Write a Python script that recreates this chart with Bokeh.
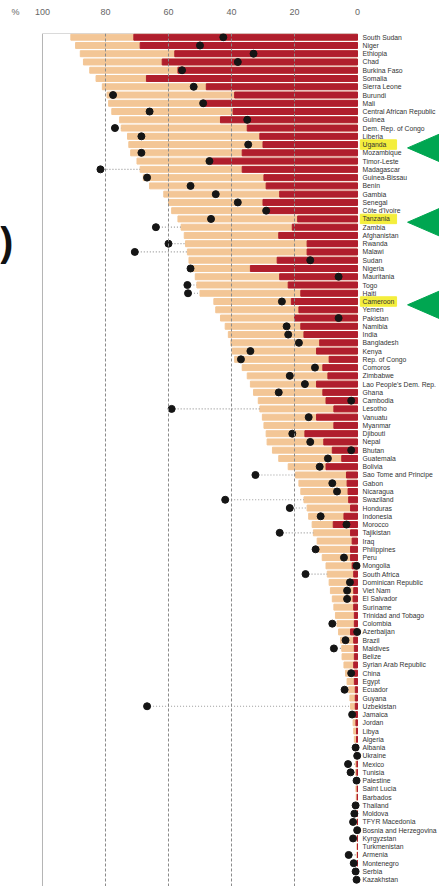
import math
from bokeh.plotting import figure
from bokeh.models import Range1d, FixedTicker, Span, ColumnDataSource
from bokeh.embed import file_html
from bokeh.resources import INLINE
from bokeh.core.properties import value

countries = [
    "South Sudan", "Niger", "Ethiopia", "Chad", "Burkina Faso", "Somalia",
    "Sierra Leone", "Burundi", "Mali", "Central African Republic", "Guinea",
    "Dem. Rep. of Congo", "Liberia", "Uganda", "Mozambique", "Timor-Leste",
    "Madagascar", "Guinea-Bissau", "Benin", "Gambia", "Senegal", "Côte d'Ivoire",
    "Tanzania", "Zambia", "Afghanistan", "Rwanda", "Malawi", "Sudan", "Nigeria",
    "Mauritania", "Togo", "Haiti", "Cameroon", "Yemen", "Pakistan", "Namibia",
    "India", "Bangladesh", "Kenya", "Rep. of Congo", "Comoros", "Zimbabwe",
    "Lao People's Dem. Rep.", "Ghana", "Cambodia", "Lesotho", "Vanuatu",
    "Myanmar", "Djibouti", "Nepal", "Bhutan", "Guatemala", "Bolivia",
    "Sao Tome and Principe", "Gabon", "Nicaragua", "Swaziland", "Honduras",
    "Indonesia", "Morocco", "Tajikistan", "Iraq", "Philippines", "Peru",
    "Mongolia", "South Africa", "Dominican Republic", "Viet Nam", "El Salvador",
    "Suriname", "Trinidad and Tobago", "Colombia", "Azerbaijan", "Brazil",
    "Maldives", "Belize", "Syrian Arab Republic", "China", "Egypt", "Ecuador",
    "Guyana", "Uzbekistan", "Jamaica", "Jordan", "Libya", "Algeria", "Albania",
    "Ukraine", "Mexico", "Tunisia", "Palestine", "Saint Lucia", "Barbados",
    "Thailand", "Moldova", "TFYR Macedonia", "Bosnia and Herzegovina",
    "Kyrgyzstan", "Turkmenistan", "Armenia", "Montenegro", "Serbia", "Kazakhstan",
]

pct_light = [
    91, 89.5, 88, 87, 85, 83, 81, 79.5, 79, 78, 75.5, 75, 73, 72.6, 72, 70, 69,
    68, 66, 61.5, 60, 59, 57, 56, 55, 54.6, 54, 53.5, 52.5, 51.5, 51, 50, 45.6,
    45, 43.5, 42, 41, 40.2, 39.8, 39, 36.6, 35, 34, 33, 31.5, 31, 30.2, 29.7,
    29, 28.7, 27, 25, 22, 19.7, 18.6, 18, 17, 16, 15.5, 14.4, 14, 12.8, 12.3,
    11.2, 10, 9.6, 9, 8.6, 8, 7.5, 7, 6.5, 6, 5.4, 5, 4.9, 4.3, 3.8, 3.3, 2.8,
    2.4, 2.2, 2, 1.4, 1.2, 1.0, 0.8, 0.7, 0.6, 0.6, 0.5, 0.5, 0.4, 0.4, 0.3,
    0.3, 0.3, 0.2, 0.2, 0.2, 0.1, 0.1, 0.1,
]

pct_dark = [
    71, 69, 58, 62, 57, 67, 48, 39, 49, 39.5, 43.5, 35, 31, 30, 36.6, 46.7,
    36.6, 29.7, 29, 24.7, 30, 28.7, 19, 20.7, 25, 16, 16, 25.5, 34, 24.7, 22,
    18, 21, 18.6, 20, 18, 17, 12, 13, 9, 11, 9.4, 13, 11, 10, 7.5, 13, 7.5,
    16.7, 10.7, 8, 5, 10, 3.5, 3.3, 3, 2.8, 2.2, 4.3, 7.7, 2.2, 1.7, 2.2, 2.2,
    1.7, 1.2, 1.7, 1.2, 1.4, 1.2, 1, 1, 2.2, 1.2, 1, 1, 1.2, 1, 1, 0.7, 0.7,
    0.7, 0.6, 0.5, 0.3, 0.3, 0.3, 0.2, 0.2, 0.2, 0.1, 0.1, 0.1, 0, 0, 0, 0, 0,
    0, 0, 0, 0, 0,
]

pct_dot = [
    42.6, 50, 33, 38, 55.7, None, 52, 77.6, 49, 66, 35, 77, 68.6, 34.7, 68.6,
    47, 81.6, 66.8, 53, 45, 38, 29, 46.5, 64, None, 60, 70.7, 15, 53, 6, 54,
    53.8, 24, None, 6, 22.5, 22, 18.6, 34, 37, 13.5, 21.5, 16.7, 25, 2, 59,
    15.5, None, 20.7, 15, 2, 9.4, 12, 32.4, 8, 6.5, 42, 21.5, 11.7, 3.5, 24.7,
    None, 13.3, 4.3, 0.3, 16.5, 2.4, 3.3, 3.3, None, None, 8, 0.1, 3.8, 7.5,
    None, None, 2, None, 4.1, None, 66.8, 1.7, None, None, None, 0.6, 0.1, 3,
    2.2, 0.3, None, None, 0.6, 1, 1.4, 0.1, 1.4, None, 2.8, 1.2, 0.6, 0.3,
]

highlighted = ["Uganda", "Tanzania", "Cameroon"]
tick_values = [0, 20, 40, 60, 80, 100]
percent_tick = 108.6

TAN = "#F3C696"
RED = "#B01E2D"
GREEN = "#00A651"
YELLOW = "#F4EE3C"

n = len(countries)
rows = list(range(n))

p = figure(
    width=439, height=886,
    x_range=Range1d(113.33, -26.03),
    y_range=Range1d(102.82, -0.448),
    x_axis_location="above", y_axis_location=None,
    toolbar_location=None, output_backend="svg",
    min_border=0, min_border_top=33,
)
p.outline_line_color = None
p.xgrid.visible = False
p.ygrid.visible = False
p.background_fill_color = "white"

ax = p.xaxis[0]
ax.ticker = FixedTicker(ticks=tick_values + [percent_tick])
ax.major_label_overrides = {percent_tick: "%"}
ax.axis_line_color = None
ax.major_tick_line_color = None
ax.minor_tick_line_color = None
ax.major_label_standoff = 11
ax.major_label_text_font_size = "9px"
ax.major_label_text_color = "#666666"
ax.major_label_text_font = "Liberation Sans"

# grid lines
p.add_layout(Span(location=max(tick_values), dimension="height",
                  line_color="#b5b5b5", line_width=1))
for t in tick_values[1:-1]:
    p.add_layout(Span(location=t, dimension="height", line_color="#8a8a8a",
                      line_width=1, line_dash="3 2"))
p.segment(x0=[max(tick_values)], x1=[min(tick_values)],
          y0=[p.y_range.end], y1=[p.y_range.end],
          line_color="#b5b5b5", line_width=1)

# highlights behind labels
hl_rows = [countries.index(c) for c in highlighted]
p.hbar(y=hl_rows, left=-0.9, right=-12.4, height=1.15, color=YELLOW)

src = ColumnDataSource(dict(y=rows, light=pct_light, dark=pct_dark, name=countries))
p.hbar(y="y", left="light", right=0, height=0.72, color=TAN, source=src)
p.hbar(y="y", left="dark", right=0, height=0.72, color=RED, source=src)

# dotted connectors where the dot lies beyond the light bar
cx0, cx1, cy = [], [], []
for i, d in enumerate(pct_dot):
    if d is not None and d > pct_light[i] + 1:
        cx0.append(d)
        cx1.append(pct_light[i])
        cy.append(i)
p.segment(x0=cx0, x1=cx1, y0=cy, y1=cy, line_color="#9a9a9a",
          line_width=1.2, line_dash="1 2")

dx = [d for d in pct_dot if d is not None]
dy = [i for i, d in enumerate(pct_dot) if d is not None]
p.scatter(x=dx, y=dy, size=7, color="#151515")

# country labels
p.text(x=-1.6, y="y", text="name", source=src, text_font=value("Liberation Sans"),
       text_font_size="6.8px", text_color="#333333", text_baseline="middle",
       text_align="left")

# green arrows pointing at highlighted rows
xs, ys = [], []
for r in hl_rows:
    c = r + 0.4
    xs.append([-15.9, -28, -28])
    ys.append([c, c - 2.0, c + 2.0])
p.patches(xs=xs, ys=ys, color=GREEN)

# cut-off panel mark at the left edge
p.text(x=[111.4], y=[24.85], text=[")"], text_font=value("Liberation Sans"),
       text_font_size="40px", text_font_style="bold", text_color="#111111",
       text_align="center", text_baseline="middle")

open("out.html", "w").write(file_html(p, INLINE))
